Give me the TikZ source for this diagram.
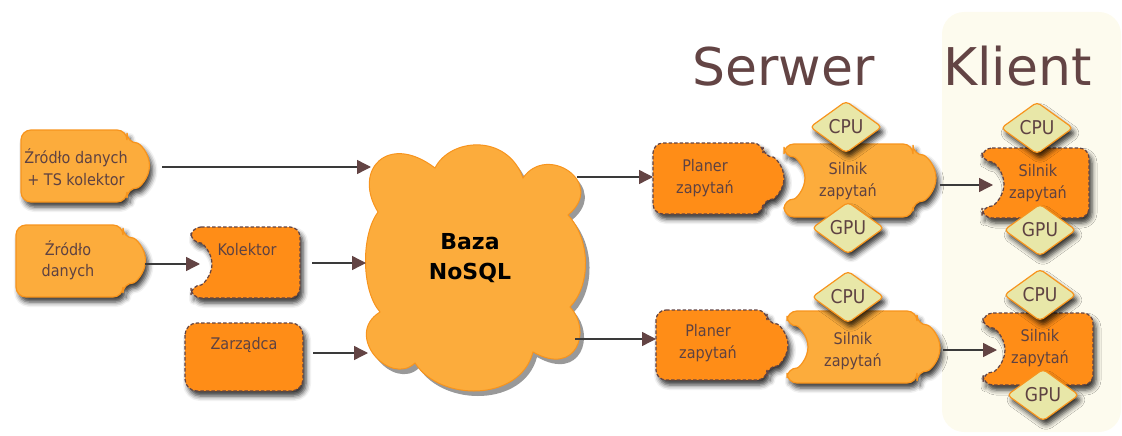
\documentclass[tikz,border=0pt]{standalone}
\usepackage{fontspec}
\setmainfont{DejaVu Sans}
\newfontfamily\cond{DejaVu Sans Condensed}
\usetikzlibrary{shapes.geometric,arrows.meta,shadows.blur}
\definecolor{lorange}{HTML}{FCAC3C}
\definecolor{dorange}{HTML}{FF8D17}
\definecolor{bord}{HTML}{F7941D}
\definecolor{dbrown}{HTML}{634444}
\definecolor{txt}{HTML}{5E4242}
\definecolor{chip}{HTML}{E8E7A8}
\definecolor{cream}{HTML}{FDFBEE}
\definecolor{linegray}{HTML}{3A3A3A}
\newcommand\cloudpath{(378,212) .. controls (352,170) and (388,132) .. (435,168) .. controls (450,138) and (507,133) .. (523,178) .. controls (547,143) and (607,183) .. (568,215) .. controls (591,240) and (591,285) .. (570,307) .. controls (592,330) and (577,377) .. (533,352) .. controls (520,402) and (440,402) .. (415,363) .. controls (390,387) and (343,335) .. (380,312) .. controls (361,290) and (361,235) .. (378,212) -- cycle}
\begin{document}
\begin{tikzpicture}[x=1pt,y=-1pt,
 shd/.style={blur shadow={shadow xshift=3pt,shadow yshift=-5pt,shadow blur radius=5pt,shadow opacity=80}},
 lightbox/.style={shd,fill=lorange,draw=bord,line width=1.2pt,rounded corners=10pt},
 darkbox/.style={shd,fill=dorange,draw=dbrown,dash pattern=on 3.5pt off 2pt,line width=1.2pt,rounded corners=10pt},
 lbl/.style={text=txt,font=\cond\fontsize{16}{21.5}\selectfont,align=center,inner sep=0pt},
 chipstyle/.style={diamond,shd,fill=chip,draw=bord,line width=1.2pt,rounded corners=4pt,minimum width=72pt,minimum height=52pt,inner sep=0pt,text=txt,font=\cond\fontsize{19}{22}\selectfont},
 conn/.style={draw=linegray,line width=1.4pt,-{Triangle[length=14pt,width=14pt,color=dbrown]}},
 title/.style={text=dbrown,font=\fontsize{52}{60}\selectfont,anchor=base west,inner sep=0pt}]
\useasboundingbox (0,0) rectangle (1122,436);
% client panel
\fill[cream,rounded corners=22pt] (942,12) rectangle (1121,432);
\node[title] (serwer) at (692,85) {Serwer};
\node[title] (klient) at (943,85) {Klient};

% sources
\path[lightbox] (21,130) -- (127,130) -- (127,143) arc[start angle=-90,end angle=90,radius=22.5] -- (127,202) -- (21,202) -- cycle;
\node[lbl] (src1) at (76,167) {Źródło danych\\+ TS kolektor};
\path[lightbox] (16,225) -- (123,225) -- (123,238) arc[start angle=-90,end angle=90,radius=22.5] -- (123,297) -- (16,297) -- cycle;
\node[lbl] (src2) at (68,260) {Źródło\\danych};
\path[darkbox] (191,227) -- (300,227) -- (300,298) -- (191,298) -- (191,285) arc[start angle=90,end angle=-90,radius=21] -- cycle;
\node[lbl] (kol) at (247,250) {Kolektor};
\path[darkbox,rounded corners=12pt] (185,323) rectangle (303,391);
\node[lbl] (zarz) at (244,345) {Zarządca};

% cloud
\begin{scope}[shift={(4,5)}]
\fill[black!40] \cloudpath;
\end{scope}
\path[fill=lorange,draw=bord,line width=1pt] \cloudpath;
\node[font=\bfseries\fontsize{22}{30}\selectfont,align=center,inner sep=0pt] (db) at (470,258) {Baza\\NoSQL};

% server planners
\path[darkbox] (653,143) -- (763,143) -- (763,157) arc[start angle=-90,end angle=90,radius=21] -- (763,214) -- (653,214) -- cycle;
\node[lbl] (plan1) at (705,178) {Planer\\zapytań};
\path[darkbox] (656,310) -- (767,310) -- (767,324) arc[start angle=-90,end angle=90,radius=21] -- (767,380) -- (656,380) -- cycle;
\node[lbl] (plan2) at (708,343) {Planer\\zapytań};

% server engines
\path[lightbox] (784,144) -- (913,144) -- (913,155) arc[start angle=-90,end angle=90,radius=23] -- (913,217) -- (784,217) -- (784,199) arc[start angle=90,end angle=-90,radius=21] -- cycle;
\node[lbl] (eng1) at (848,181) {Silnik\\zapytań};
\path[lightbox] (787,311) -- (917,311) -- (917,325) arc[start angle=-90,end angle=90,radius=23] -- (917,383) -- (787,383) -- (787,368) arc[start angle=90,end angle=-90,radius=21] -- cycle;
\node[lbl] (eng2) at (853,351) {Silnik\\zapytań};

% client engines
\path[darkbox] (982,148) -- (1089,148) -- (1089,218) -- (982,218) -- (982,206) arc[start angle=90,end angle=-90,radius=22] -- cycle;
\node[lbl] (ceng1) at (1038,183) {Silnik\\zapytań};
\path[darkbox] (983,313) -- (1093,313) -- (1093,385) -- (983,385) -- (983,372) arc[start angle=90,end angle=-90,radius=22] -- cycle;
\node[lbl] (ceng2) at (1040,348) {Silnik\\zapytań};

% chips
\node[chipstyle] (cpu1) at (846,127) {CPU};
\node[chipstyle] (gpu1) at (848,228) {GPU};
\node[chipstyle] (cpu2) at (848,297) {CPU};
\node[chipstyle] (cpu3) at (1037,128) {CPU};
\node[chipstyle] (gpu3) at (1040,230) {GPU};
\node[chipstyle] (cpu4) at (1040,295) {CPU};
\node[chipstyle] (gpu4) at (1043,395) {GPU};

% connector ends
\coordinate (s1e) at (162,167);
\coordinate (dbin1) at (371,167);
\coordinate (kole) at (312,263);
\coordinate (dbin2) at (366,263);
\coordinate (zare) at (313,353);
\coordinate (dbin3) at (368,353);
\coordinate (s2e) at (145,264);
\coordinate (kolin) at (200,264);
\coordinate (dbout1) at (577,177);
\coordinate (plan1in) at (653,177);
\coordinate (dbout2) at (575,339);
\coordinate (plan2in) at (656,339);
\coordinate (eng1e) at (940,185);
\coordinate (ceng1in) at (993,185);
\coordinate (eng2e) at (943,350);
\coordinate (ceng2in) at (997,350);

\draw[conn] (s1e) -- (dbin1);
\draw[conn] (kole) -- (dbin2);
\draw[conn] (zare) -- (dbin3);
\draw[conn] (s2e) -- (kolin);
\draw[conn] (dbout1) -- (plan1in);
\draw[conn] (dbout2) -- (plan2in);
\draw[conn] (eng1e) -- (ceng1in);
\draw[conn] (eng2e) -- (ceng2in);
\end{tikzpicture}
\end{document}
